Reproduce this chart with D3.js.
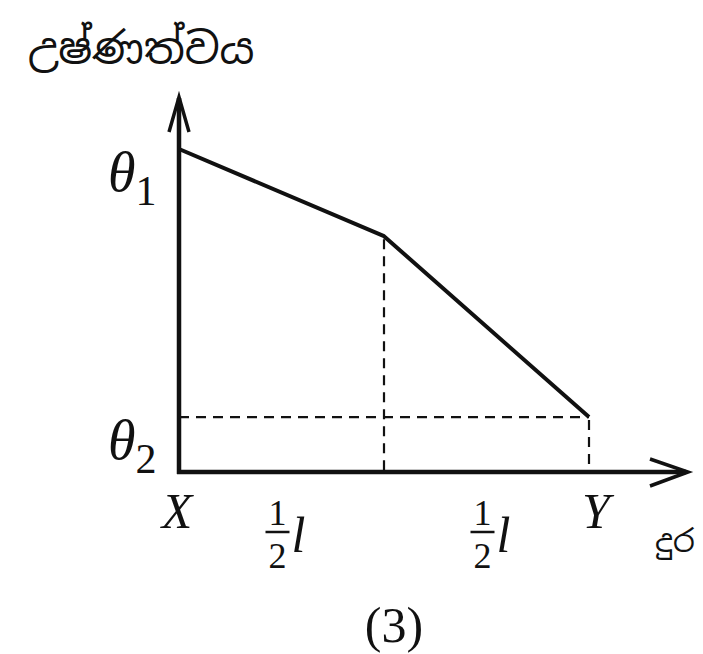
<!DOCTYPE html>
<html>
<head>
<meta charset="utf-8">
<script src="https://cdn.jsdelivr.net/npm/d3@7"></script>
<style>
  body { margin: 0; background: #fff; }
  svg text { fill: #111; }
  .serif { font-family: "Liberation Serif", "DejaVu Serif", serif; }
</style>
</head>
<body>
<div id="chart"></div>
<script>
// distance along the rod (in units of l) and temperature (arbitrary units)
const distance = [0, 0.5, 1];
const temperature = [100, 73, 17];
const yTickValues = [100, 17];
const yTickNames = ['1', '2'];           // subscripts of theta
const xTickValues = [0, 1];
const xTickNames = ['X', 'Y'];
const halfMarks = [0.25, 0.75];          // positions of the ½l labels
const yTitle = 'උෂ්ණත්වය';
const xTitle = 'දුර';
const caption = '(3)';

const width = 703, height = 654;
const svg = d3.select('#chart').append('svg')
  .attr('width', width)
  .attr('height', height);

const x = d3.scaleLinear().domain([0, 1]).range([179, 589]);
const y = d3.scaleLinear().domain([0, 100]).range([472, 149]);

const ink = '#111';
const x0 = x(0), y0 = y(0);

// axes
svg.append('line')
  .attr('x1', x0).attr('y1', y0 + 2)
  .attr('x2', x0).attr('y2', 98)
  .attr('stroke', ink).attr('stroke-width', 4.5);
svg.append('line')
  .attr('x1', x0 - 2).attr('y1', y0)
  .attr('x2', 686).attr('y2', y0)
  .attr('stroke', ink).attr('stroke-width', 4.5);

// open arrow heads
svg.append('path')
  .attr('d', `M${x0 - 10},132 L${x0},97 L${x0 + 10},132`)
  .attr('fill', 'none').attr('stroke', ink).attr('stroke-width', 3.5);
svg.append('path')
  .attr('d', `M650,${y0 - 13} L688,${y0} L650,${y0 + 14}`)
  .attr('fill', 'none').attr('stroke', ink).attr('stroke-width', 3.5);

// dashed guides
const dash = '10,7';
const mid = 1, end = distance.length - 1;
svg.append('line')
  .attr('x1', x0).attr('y1', y(temperature[end]))
  .attr('x2', x(distance[end])).attr('y2', y(temperature[end]))
  .attr('stroke', ink).attr('stroke-width', 2.2).attr('stroke-dasharray', dash);
[mid, end].forEach(i => {
  svg.append('line')
    .attr('x1', x(distance[i])).attr('y1', y(temperature[i]) + 3)
    .attr('x2', x(distance[i])).attr('y2', y0)
    .attr('stroke', ink).attr('stroke-width', 2.2).attr('stroke-dasharray', dash);
});

// temperature profile
const line = d3.line()
  .x((d, i) => x(distance[i]))
  .y(d => y(d));
svg.append('path')
  .datum(temperature)
  .attr('d', line)
  .attr('fill', 'none').attr('stroke', ink).attr('stroke-width', 4)
  .attr('stroke-linejoin', 'round');

// y labels: theta with subscript
yTickValues.forEach((v, i) => {
  const t = svg.append('text')
    .attr('class', 'serif')
    .attr('x', 108)
    .attr('y', y(v) + 42)
    .style('font-size', '56px');
  t.append('tspan').attr('font-style', 'italic').text('θ');
  t.append('tspan').attr('dy', 14).style('font-size', '42px').text(yTickNames[i]);
});

// X / Y labels
xTickValues.forEach((v, i) => {
  svg.append('text')
    .attr('class', 'serif')
    .attr('x', x(v) + (i === 0 ? -2 : 7))
    .attr('y', y0 + 56)
    .attr('text-anchor', 'middle')
    .attr('font-style', 'italic')
    .style('font-size', '50px')
    .text(xTickNames[i]);
});

// ½ l labels
halfMarks.forEach(v => {
  const cx = x(v) - 4;
  const g = svg.append('g').attr('class', 'serif');
  g.append('text').attr('x', cx).attr('y', y0 + 53)
    .attr('text-anchor', 'middle').style('font-size', '36px').text('1');
  g.append('line').attr('x1', cx - 12).attr('x2', cx + 12)
    .attr('y1', y0 + 60).attr('y2', y0 + 60)
    .attr('stroke', ink).attr('stroke-width', 2.5);
  g.append('text').attr('x', cx).attr('y', y0 + 96)
    .attr('text-anchor', 'middle').style('font-size', '36px').text('2');
  g.append('text').attr('x', cx + 14).attr('y', y0 + 80)
    .attr('font-style', 'italic').style('font-size', '50px').text('l');
});

// titles
svg.append('text')
  .attr('x', 28).attr('y', 64)
  .style('font-family', '"Noto Sans Sinhala", "Noto Sans", sans-serif')
  .style('font-size', '43px')
  .text(yTitle);
svg.append('text')
  .attr('x', 655).attr('y', y0 + 80)
  .style('font-family', '"Noto Sans Sinhala", "Noto Sans", sans-serif')
  .style('font-size', '31px')
  .text(xTitle);
svg.append('text')
  .attr('class', 'serif')
  .attr('x', 394).attr('y', 642)
  .attr('text-anchor', 'middle')
  .style('font-size', '50px')
  .text(caption);
</script>
</body>
</html>
